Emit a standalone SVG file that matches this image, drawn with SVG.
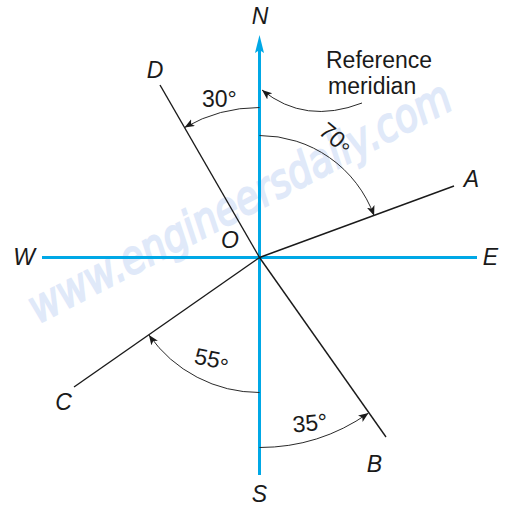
<svg xmlns="http://www.w3.org/2000/svg" width="509" height="510" viewBox="0 0 509 510">
<style>
.axis{stroke:#00a8e6;stroke-width:3;fill:none}
.ln{stroke:#1a1a1a;stroke-width:1.4;fill:none}
.arc{stroke:#2a2a2a;stroke-width:1;fill:none}
.lbl{font-family:"Liberation Sans",Arial,sans-serif;font-style:italic;font-size:23px;fill:#1a1a1a;text-anchor:middle}
.num{font-family:"Liberation Sans",Arial,sans-serif;font-size:23px;fill:#1a1a1a}
.wm{font-family:"DejaVu Sans",sans-serif;font-style:oblique;font-size:46px;fill:#e0e9f9}
</style>
<defs>
<marker id="ah" markerUnits="userSpaceOnUse" markerWidth="12" markerHeight="10" refX="10" refY="4" orient="auto">
<path d="M0,0 L10,4 L0,8 L2.5,4 Z" fill="#1a1a1a"/>
</marker>
</defs>
<text class="wm" transform="translate(38,324) rotate(-27.4)" textLength="470" lengthAdjust="spacingAndGlyphs" stroke="#e0e9f9" stroke-width="2">www.engineersdaily.com</text>
<g id="connectors">
<line class="axis" x1="259.5" y1="50" x2="259.5" y2="475"/>
<polygon points="259.5,35 264,53 259.5,50 255,53" fill="#00a8e6"/>
<line class="axis" x1="42" y1="257.5" x2="477" y2="257.5"/>
<line class="ln" x1="160" y1="85" x2="259.5" y2="257.5"/>
<line class="ln" x1="259.5" y1="257.5" x2="386" y2="437"/>
<line class="ln" x1="259.5" y1="257.5" x2="454" y2="186"/>
<line class="ln" x1="259.5" y1="257.5" x2="74" y2="387"/>
<path class="arc" d="M259.5,107.5 A150,150 0 0 0 184.5,127.6" marker-end="url(#ah)"/>
<path class="arc" d="M259.5,135.5 A122,122 0 0 1 374.1,215.8" marker-end="url(#ah)"/>
<path class="arc" d="M259.5,392.5 A135,135 0 0 1 148.9,334.9" marker-end="url(#ah)"/>
<path class="arc" d="M259.5,447.5 A190,190 0 0 0 368.5,413.1" marker-end="url(#ah)"/>
<path class="arc" d="M362,103 Q305,125 262,90" marker-end="url(#ah)"/>
</g>
<g id="N"><text class="lbl" x="260" y="24">N</text></g>
<g id="S"><text class="lbl" x="259.5" y="502">S</text></g>
<g id="W"><text class="lbl" x="24" y="265">W</text></g>
<g id="E"><text class="lbl" x="490.5" y="265">E</text></g>
<g id="A"><text class="lbl" x="471.5" y="187">A</text></g>
<g id="B"><text class="lbl" x="374.5" y="472">B</text></g>
<g id="C"><text class="lbl" x="63.5" y="410">C</text></g>
<g id="D"><text class="lbl" x="155" y="78">D</text></g>
<g id="O"><text class="lbl" x="230" y="248">O</text></g>
<g id="ref"><text class="num" x="326" y="68">Reference</text><text class="num" x="328" y="94">meridian</text></g>
<g id="a30"><text class="num" x="202" y="107">30°</text></g>
<g id="a70"><text class="num" text-anchor="middle" transform="translate(336,138) rotate(40)" y="8">70<tspan dy="5">°</tspan></text></g>
<g id="a55"><text class="num" text-anchor="middle" transform="translate(212,359) rotate(12)" y="8">55<tspan dy="5">°</tspan></text></g>
<g id="a35"><text class="num" text-anchor="middle" transform="translate(310,423) rotate(-5)" y="8">35°</text></g>
</svg>
